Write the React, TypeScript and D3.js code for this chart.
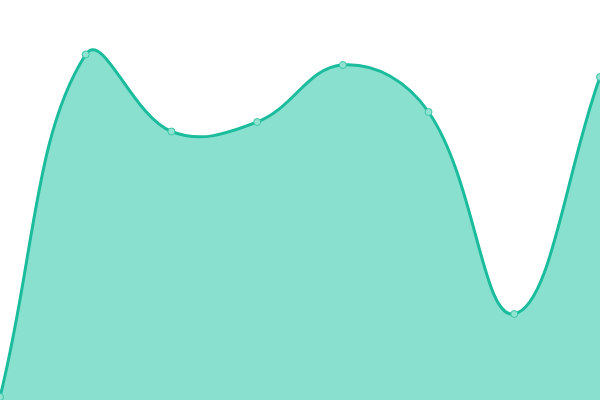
import React from "react";
import * as d3 from "d3";

const categories = ["A", "B", "C", "D", "E", "F", "G", "H"];
const values = [3, 345.5, 268.5, 278, 335, 288, 86, 323];

const W = 600;
const H = 400;
const TENSION = 0.4;

// Chart.js-style spline (distance-weighted control points) as a d3 curve factory
class SplineCurve {
  _context: any;
  _line: number = NaN;
  _pts: [number, number][] = [];
  constructor(context: any) {
    this._context = context;
  }
  areaStart() {
    this._line = 0;
  }
  areaEnd() {
    this._line = NaN;
  }
  lineStart() {
    this._pts = [];
  }
  point(x: number, y: number) {
    this._pts.push([+x, +y]);
  }
  lineEnd() {
    const p = this._pts;
    const n = p.length;
    const ctx = this._context;
    if (n) {
      if (this._line) ctx.lineTo(p[0][0], p[0][1]);
      else ctx.moveTo(p[0][0], p[0][1]);
      const prevCp: [number, number][] = [];
      const nextCp: [number, number][] = [];
      for (let i = 0; i < n; i++) {
        const prev = p[Math.max(0, i - 1)];
        const cur = p[i];
        const next = p[Math.min(n - 1, i + 1)];
        const d01 = Math.hypot(cur[0] - prev[0], cur[1] - prev[1]);
        const d12 = Math.hypot(next[0] - cur[0], next[1] - cur[1]);
        let s01 = d01 / (d01 + d12);
        let s12 = d12 / (d01 + d12);
        if (!isFinite(s01)) s01 = 0;
        if (!isFinite(s12)) s12 = 0;
        const fa = TENSION * s01;
        const fb = TENSION * s12;
        prevCp.push([cur[0] - fa * (next[0] - prev[0]), cur[1] - fa * (next[1] - prev[1])]);
        nextCp.push([cur[0] + fb * (next[0] - prev[0]), cur[1] + fb * (next[1] - prev[1])]);
      }
      for (let i = 1; i < n; i++) {
        ctx.bezierCurveTo(
          nextCp[i - 1][0],
          nextCp[i - 1][1],
          prevCp[i][0],
          prevCp[i][1],
          p[i][0],
          p[i][1]
        );
      }
    }
    if (this._line || (this._line !== 0 && n === 1)) ctx.closePath();
    this._line = 1 - this._line;
  }
}
const splineCurve: any = (context: any) => new SplineCurve(context);

export default function App() {
  const x = d3.scalePoint<string>().domain(categories).range([0, W]);
  const y = d3.scaleLinear().domain([0, 400]).range([H, 0]);
  const pts = categories.map((c, i) => ({ c, v: values[i] }));
  const area = d3
    .area<{ c: string; v: number }>()
    .x((d) => x(d.c)!)
    .y0(H)
    .y1((d) => y(d.v))
    .curve(splineCurve)(pts)!;
  const line = d3
    .line<{ c: string; v: number }>()
    .x((d) => x(d.c)!)
    .y((d) => y(d.v))
    .curve(splineCurve)(pts)!;
  return (
    <div style={{ position: "absolute", left: 0, top: 0 }}>
      <svg width={W} height={H} style={{ display: "block" }}>
        <rect width={W} height={H} fill="#fff" />
        <path d={area} fill="#8ae0cf" />
        <path d={line} fill="none" stroke="#1abc9c" strokeWidth={3} />
        {pts.map((d) => (
          <circle
            key={d.c}
            cx={x(d.c)}
            cy={y(d.v)}
            r={3.5}
            fill="#90e2d1"
            stroke="#3cc6a9"
            strokeWidth={1}
          />
        ))}
      </svg>
    </div>
  );
}
